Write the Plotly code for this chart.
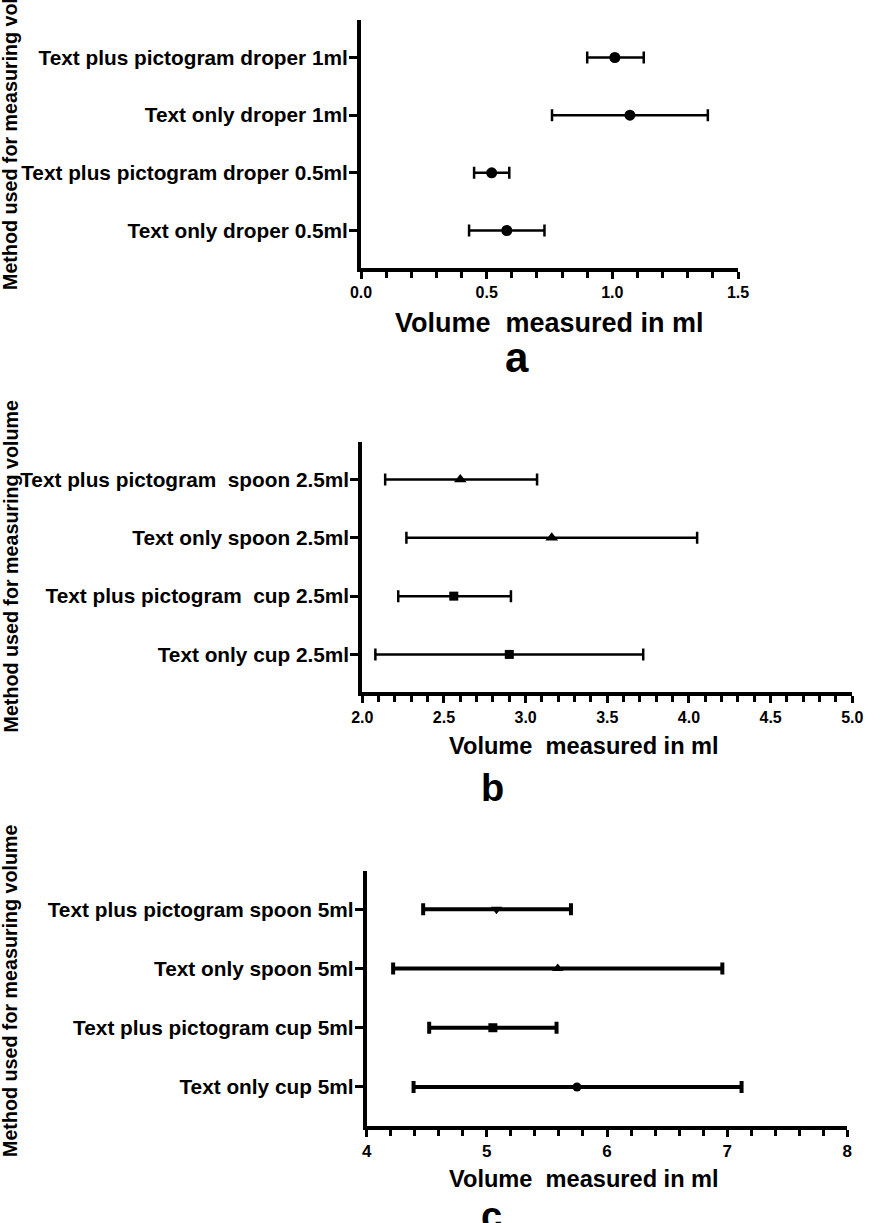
import plotly.graph_objects as go

W, H = 896, 1223

# ---------------- data (top row first) ----------------
labels_a = ["Text plus pictogram droper 1ml", "Text only droper 1ml",
            "Text plus pictogram droper 0.5ml", "Text only droper 0.5ml"]
mean_a = [1.01, 1.07, 0.52, 0.58]
low_a = [0.90, 0.76, 0.45, 0.43]
high_a = [1.125, 1.38, 0.59, 0.73]
symbols_a = ["circle", "circle", "circle", "circle"]

labels_b = ["Text plus pictogram\u00a0 spoon 2.5ml", "Text only spoon 2.5ml",
            "Text plus pictogram\u00a0 cup 2.5ml", "Text only cup 2.5ml"]
mean_b = [2.60, 3.16, 2.56, 2.90]
low_b = [2.14, 2.27, 2.22, 2.08]
high_b = [3.07, 4.05, 2.91, 3.72]
symbols_b = ["triangle-up", "triangle-up", "square", "square"]

labels_c = ["Text plus pictogram spoon 5ml", "Text only spoon 5ml",
            "Text plus pictogram cup 5ml", "Text only cup 5ml"]
mean_c = [5.08, 5.59, 5.05, 5.75]
low_c = [4.47, 4.22, 4.52, 4.39]
high_c = [5.70, 6.96, 5.58, 7.12]
symbols_c = ["triangle-down", "triangle-up", "square", "circle"]

x_title = "Volume\u00a0 measured in ml"
y_title = "Method used for measuring volume"
panel_letters = ["a", "b", "c"]

FONT = "Liberation Sans, Arial, sans-serif"


def px(x):
    return x / W


def py(y):
    return 1 - y / H


fig = go.Figure()

panels = [
    dict(labels=labels_a, mean=mean_a, low=low_a, high=high_a, sym=symbols_a,
         sizes=[11, 11, 11, 11], thick=2.5, xr=[0, 1.5], dtick=0.5, minor=0.1, fmt=".1f",
         xd=(361, 738), yd=(20, 268), tickfont=16),
    dict(labels=labels_b, mean=mean_b, low=low_b, high=high_b, sym=symbols_b,
         sizes=[11, 11, 9, 9], thick=2.5, xr=[2, 5], dtick=0.5, minor=0.1, fmt=".1f",
         xd=(362.3, 852.3), yd=(441.7, 692.3), tickfont=16),
    dict(labels=labels_c, mean=mean_c, low=low_c, high=high_c, sym=symbols_c,
         sizes=[10, 10, 9, 9], thick=4, xr=[4, 8], dtick=1, minor=0.2, fmt="d",
         xd=(366.7, 847.3), yd=(870.7, 1125.5), tickfont=17),
]

for i, p in enumerate(panels):
    n = i + 1
    xa = "x" if n == 1 else f"x{n}"
    ya = "y" if n == 1 else f"y{n}"
    plus = [h - m for h, m in zip(p["high"], p["mean"])]
    minus = [m - l for m, l in zip(p["mean"], p["low"])]
    fig.add_trace(go.Scatter(
        x=p["mean"], y=p["labels"], mode="markers",
        marker=dict(symbol=p["sym"], size=p["sizes"], color="#000000", opacity=1,
                    line=dict(width=0)),
        error_x=dict(type="data", symmetric=False, array=plus, arrayminus=minus,
                     color="black", thickness=p["thick"], width=6),
        xaxis=xa, yaxis=ya, showlegend=False, cliponaxis=False,
    ))
    xkey = "xaxis" if n == 1 else f"xaxis{n}"
    ykey = "yaxis" if n == 1 else f"yaxis{n}"
    fig.update_layout(**{
        xkey: dict(
            domain=[px(p["xd"][0]), px(p["xd"][1])], anchor=ya,
            range=p["xr"], dtick=p["dtick"], tick0=p["xr"][0], tickformat=p["fmt"],
            showline=True, linewidth=4, linecolor="black",
            ticks="outside", ticklen=7, tickwidth=3, tickcolor="black",
            minor=dict(dtick=p["minor"], ticks="outside", ticklen=6, tickwidth=3,
                       tickcolor="black", showgrid=False),
            showgrid=False, zeroline=False,
            tickfont=dict(family=FONT, size=p["tickfont"], color="black", weight="bold"),
        ),
        ykey: dict(
            domain=[py(p["yd"][1]), py(p["yd"][0])], anchor=xa,
            type="category", categoryorder="array",
            categoryarray=list(reversed(p["labels"])), range=[-0.65, 3.65],
            showline=True, linewidth=4, linecolor="black",
            ticks="outside", ticklen=8, tickwidth=3, tickcolor="black",
            ticklabelstandoff=-3,
            showgrid=False, zeroline=False,
            tickfont=dict(family=FONT, size=20.8, color="black", weight="bold"),
        ),
    })

annotations = []
# y titles
for (cx, cy) in [(10, 124), (10, 566.5), (10, 991)]:
    annotations.append(dict(text=y_title, x=px(cx), y=py(cy), xref="paper", yref="paper",
                            xanchor="center", yanchor="middle", textangle=-90, showarrow=False,
                            font=dict(family=FONT, size=19.7, color="black", weight="bold")))
# x titles
for (cx, cy, fs) in [(549.5, 323, 27), (583.5, 746, 23.6), (583.5, 1179, 23.6)]:
    annotations.append(dict(text=x_title, x=px(cx), y=py(cy), xref="paper", yref="paper",
                            xanchor="center", yanchor="middle", showarrow=False,
                            font=dict(family=FONT, size=fs, color="black", weight="bold")))
# panel letters
for letter, (cx, cy, fs) in zip(panel_letters, [(516.5, 357, 42), (492, 788, 38), (491, 1216, 38)]):
    annotations.append(dict(text=letter, x=px(cx), y=py(cy), xref="paper", yref="paper",
                            xanchor="center", yanchor="middle", showarrow=False,
                            font=dict(family=FONT, size=fs, color="black", weight="bold")))

fig.update_layout(
    width=W, height=H, autosize=False,
    margin=dict(l=0, r=0, t=0, b=0, autoexpand=False),
    paper_bgcolor="white", plot_bgcolor="white",
    annotations=annotations,
)

fig.write_html("out.html", config={"displayModeBar": False},
               post_script="document.body.style.margin='0';document.body.style.overflow='hidden';")
